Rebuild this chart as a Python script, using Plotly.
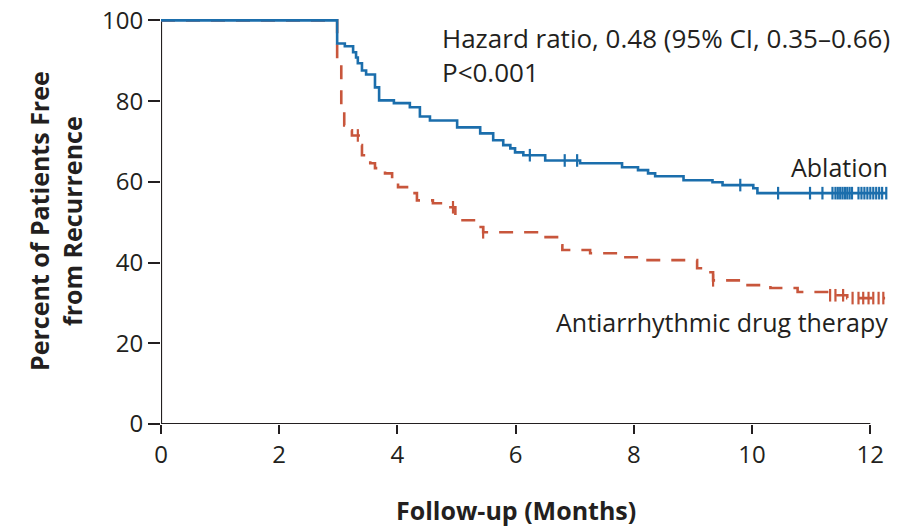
import plotly.graph_objects as go

# Kaplan-Meier step data (months, percent free from recurrence)
ablation_t = [0, 2.98, 3.11, 3.25, 3.30, 3.33, 3.40, 3.47, 3.62, 3.69, 3.94, 4.21, 4.38, 4.55,
              5.01, 5.40, 5.62, 5.79, 5.91, 5.99, 6.13, 6.50, 7.09, 7.80, 8.07, 8.24, 8.36,
              8.84, 9.33, 9.50, 10.02, 10.09, 12.27]
ablation_s = [100, 94.3, 93.6, 92.1, 90.8, 89.4, 87.6, 86.6, 83.4, 80.2, 79.5, 78.5, 76.2, 75.2,
              73.5, 72.0, 70.3, 69.1, 68.3, 67.3, 66.6, 65.3, 64.6, 63.6, 62.9, 62.1, 61.4,
              60.4, 59.9, 59.2, 58.4, 57.2, 57.2]
ablation_censor = [6.24, 6.83, 7.04, 9.80, 10.44, 10.98, 11.19, 11.36, 11.41, 11.45, 11.49, 11.53,
                   11.57, 11.61, 11.65, 11.69, 11.80, 11.85, 11.90, 11.95, 12.00, 12.05, 12.10,
                   12.15, 12.20, 12.27]

drug_t = [0, 2.98, 3.05, 3.10, 3.15, 3.23, 3.37, 3.40, 3.54, 3.62, 3.79, 3.91, 4.01, 4.21, 4.33,
          4.60, 4.77, 4.98, 5.06, 5.35, 5.45, 6.36, 6.70, 6.79, 7.26, 7.72, 7.80, 8.11, 9.07,
          9.16, 9.34, 9.80, 10.31, 10.77, 11.32, 11.61, 12.25]
drug_s = [100, 90.1, 79.0, 74.0, 72.8, 71.5, 69.1, 66.6, 64.6, 63.4, 62.1, 60.4, 58.7, 57.2, 55.4,
          54.7, 53.7, 51.7, 50.5, 48.8, 47.5, 46.3, 44.3, 43.1, 42.3, 41.8, 41.3, 40.6, 38.6,
          37.6, 35.6, 34.4, 33.7, 32.7, 31.9, 31.2, 31.2]
drug_censor = [3.33, 4.94, 5.45, 9.34, 11.32, 11.41, 11.54, 11.70, 11.80, 11.88, 11.97, 12.05,
               12.14, 12.22]

x_ticks = [0, 2, 4, 6, 8, 10, 12]
y_ticks = [0, 20, 40, 60, 80, 100]

BLUE = "#1b6eac"
RED = "#c8563c"
INK = "#231f20"
FONT = "Open Sans"


def value_at(ts, ss, t):
    v = ss[0]
    for ti, si in zip(ts, ss):
        if ti <= t:
            v = si
    return v


fig = go.Figure()
fig.add_trace(go.Scatter(x=drug_t, y=drug_s, mode="lines", line=dict(shape="hv", color=RED, width=2.6, dash="14px,11px"),
                         hoverinfo="skip", showlegend=False))
fig.add_trace(go.Scatter(x=drug_censor, y=[value_at(drug_t, drug_s, t) for t in drug_censor], mode="markers",
                         marker=dict(symbol="line-ns-open", size=9, color=RED, line=dict(color=RED, width=2.2)),
                         hoverinfo="skip", showlegend=False))
fig.add_trace(go.Scatter(x=ablation_t, y=ablation_s, mode="lines", line=dict(shape="hv", color=BLUE, width=2.6),
                         hoverinfo="skip", showlegend=False))
fig.add_trace(go.Scatter(x=ablation_censor, y=[value_at(ablation_t, ablation_s, t) for t in ablation_censor],
                         mode="markers", marker=dict(symbol="line-ns-open", size=9, color=BLUE, line=dict(color=BLUE, width=2.2)),
                         hoverinfo="skip", showlegend=False))

fig.update_layout(
    width=912, height=527,
    margin=dict(l=161, r=21, t=18, b=103, autoexpand=False),
    paper_bgcolor="white", plot_bgcolor="white",
    font=dict(family=FONT, color=INK, size=24),
    xaxis=dict(range=[0, 12.35], tickvals=x_ticks, ticktext=[str(v) for v in x_ticks], ticks="outside",
               ticklen=9, tickwidth=2, tickcolor=INK, showgrid=False, zeroline=False, showline=False,
               ticklabeloverflow="allow", automargin=False,
               tickfont=dict(size=24, family=FONT, color=INK)),
    yaxis=dict(range=[0, 100.6], tickvals=y_ticks, ticktext=[str(v) for v in y_ticks], ticks="outside",
               ticklen=12, tickwidth=2, tickcolor=INK, showgrid=False, zeroline=False, showline=False,
               ticklabeloverflow="allow", automargin=False,
               tickfont=dict(size=24, family=FONT, color=INK)),
    shapes=[
        dict(type="line", xref="x", yref="y", x0=0, x1=12, y0=0, y1=0, line=dict(color=INK, width=2.2), layer="below"),
        dict(type="line", xref="x", yref="y", x0=0, x1=0, y0=0, y1=100, line=dict(color=INK, width=2.2), layer="below"),
    ],
    annotations=[
        dict(text="Hazard ratio, 0.48 (95% CI, 0.35\u20130.66)<br>P&lt;0.001", xref="x", yref="paper", x=4.72, y=1.0,
             xanchor="left", yanchor="top", align="left", showarrow=False, font=dict(size=26, family=FONT, color=INK)),
        dict(text="Ablation", xref="x", yref="y", x=12.33, y=63.8, xanchor="right", yanchor="middle",
             showarrow=False, font=dict(size=25, family=FONT, color=INK)),
        dict(text="Antiarrhythmic drug therapy", xref="x", yref="y", x=12.33, y=25.3, xanchor="right",
             yanchor="middle", showarrow=False, font=dict(size=25, family=FONT, color=INK)),
        dict(text="<b>Percent of Patients Free<br>from Recurrence</b>", xref="paper", yref="paper", x=0, y=0.5,
             xshift=-106, xanchor="center", yanchor="middle", textangle=-90, showarrow=False,
             font=dict(size=25, family=FONT, color=INK)),
        dict(text="<b>Follow-up (Months)</b>", xref="x", yref="paper", x=6, y=0, yshift=-86,
             xanchor="center", yanchor="middle", showarrow=False, font=dict(size=25, family=FONT, color=INK)),
    ],
)

fig.write_html("out.html", config={"displayModeBar": False, "staticPlot": True},
               post_script="document.body.style.margin='0';document.body.style.overflow='hidden';")
